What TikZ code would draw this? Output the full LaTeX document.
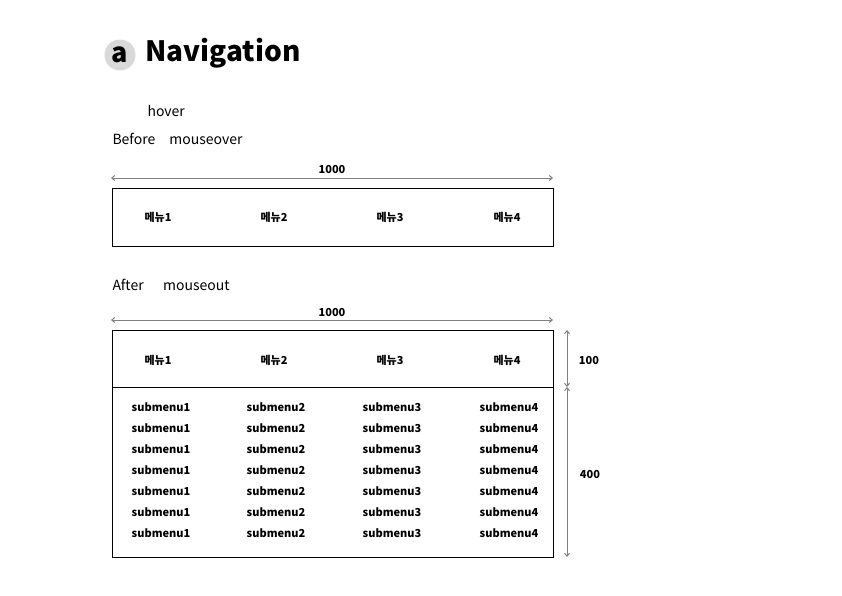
\documentclass[tikz,border=0pt]{standalone}
\usepackage{fontspec}
\setmainfont{Noto Sans CJK KR}
\usepackage{tikz}
\usetikzlibrary{arrows.meta,positioning}

\begin{document}
\begin{tikzpicture}[x=1pt,y=-1pt,>={Straight Barb[length=3pt,width=5pt]},
                    font=\fontsize{14}{16}\selectfont]
  \tikzset{menu/.style={font=\fontsize{11}{13}\selectfont\bfseries},
           dim/.style={<->,draw=gray,line width=1pt},
           dimlabel/.style={font=\fontsize{11}{13}\selectfont\bfseries},
           frame/.style={draw,line width=0.8pt}}
  \useasboundingbox (0,0) rectangle (842,595);

  % title
  \node[circle,fill=black!15,minimum size=31pt,inner sep=0pt,
        font=\fontsize{27}{29}\selectfont\bfseries] (badge) at (120,55) {a};
  \node[anchor=west,font=\fontsize{28}{31}\selectfont\bfseries] (title)
       at (142,53) {Navigation};

  \node[anchor=west] (hover)  at (144,111) {hover};
  \node[anchor=west] (before) at (109,139) {Before\quad mouseover};

  % before
  \coordinate (b1) at (111,178);
  \coordinate (b2) at (553,178);
  \draw[dim] (b1) -- (b2);
  \node[dimlabel] (w1) at (332,170) {1000};
  \node[frame,minimum width=441pt,minimum height=58pt,anchor=north west]
       (closed) at (112,188) {};
  \foreach \i/\x in {1/158,2/274,3/390,4/507}
    \node[menu] (top\i) at (\x,217) {메뉴\i};

  % after
  \node[anchor=west] (after) at (109,285) {After\quad\ \,mouseout};
  \coordinate (a1) at (111,320);
  \coordinate (a2) at (553,320);
  \draw[dim] (a1) -- (a2);
  \node[dimlabel] (w2) at (332,312) {1000};
  \node[frame,minimum width=441pt,minimum height=227pt,anchor=north west]
       (open) at (112,330) {};
  \draw[line width=0.8pt] (112,387) -- (553,387);
  \foreach \i/\x in {1/158,2/274,3/390,4/507}
    \node[menu] (menu\i) at (\x,360) {메뉴\i};
  \foreach \i/\x in {1/161,2/276,3/392,4/509}
    \foreach \r in {0,...,6}
      \node[menu] (sub\i\r) at (\x,407+21*\r) {submenu\i};

  % heights
  \coordinate (h1) at (567,330);
  \coordinate (h2) at (567,387);
  \coordinate (h3) at (567,557);
  \draw[dim] (h1) -- (h2);
  \draw[dim] (h2) -- (h3);
  \node[dimlabel] (d100) at (589,360) {100};
  \node[dimlabel] (d400) at (590,474) {400};
\end{tikzpicture}
\end{document}
